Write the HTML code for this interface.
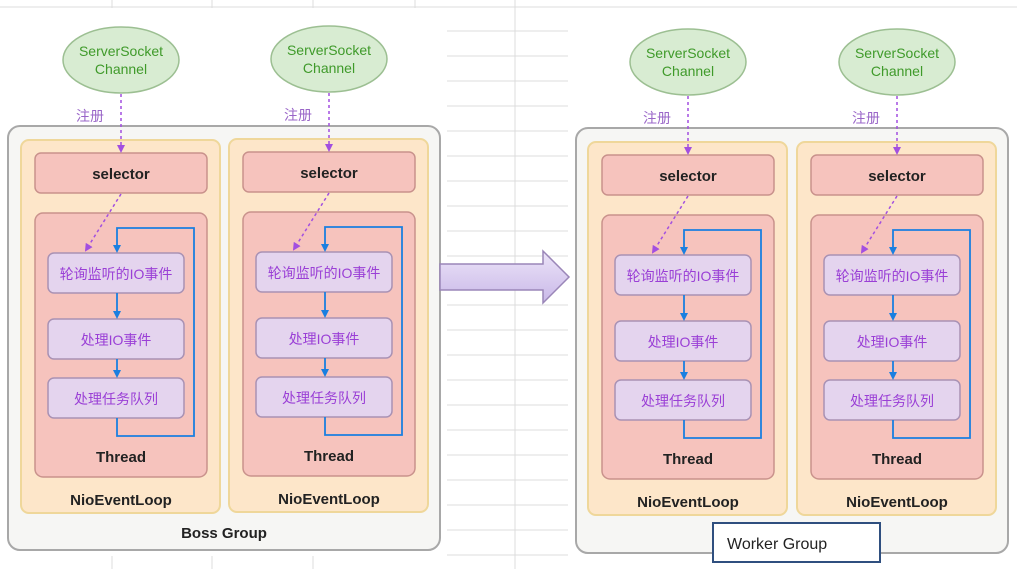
<!DOCTYPE html>
<html><head><meta charset="utf-8"><style>
html,body{margin:0;padding:0;background:#fff}
svg{display:block}
text{font-family:"Liberation Sans","Noto Sans CJK SC",sans-serif}
</style></head><body>
<svg width="1017" height="569" viewBox="0 0 1017 569" xmlns="http://www.w3.org/2000/svg">
<defs>
<marker id="pa" markerWidth="8" markerHeight="8" refX="6" refY="4" orient="auto" markerUnits="userSpaceOnUse"><path d="M0,0 L8,4 L0,8 z" fill="#a24fe0"/></marker>
<marker id="ba" markerWidth="8" markerHeight="8" refX="6" refY="4" orient="auto" markerUnits="userSpaceOnUse"><path d="M0,0 L8,4 L0,8 z" fill="#1a7fe0"/></marker>
<linearGradient id="ag" x1="0" y1="0" x2="0" y2="1"><stop offset="0" stop-color="#ece4f8"/><stop offset="1" stop-color="#c9b8e8"/></linearGradient>
<g id="loop">
  <rect x="21" y="140" width="199" height="373" rx="8" fill="#fde6c9" stroke="#efd79a" stroke-width="2"/>
  <rect x="35" y="153" width="172" height="40" rx="6" fill="#f6c3bd" stroke="#c9928c" stroke-width="1.5"/>
  <text x="121" y="179" font-size="15" font-weight="bold" text-anchor="middle" fill="#222">selector</text>
  <rect x="35" y="213" width="172" height="264" rx="8" fill="#f6c3bd" stroke="#c9928c" stroke-width="1.5"/>
  <rect x="48" y="253" width="136" height="40" rx="6" fill="#e4d4ee" stroke="#a992b4" stroke-width="1.5"/>
  <text x="116" y="279" font-size="14" text-anchor="middle" fill="#9a3fd6">轮询监听的IO事件</text>
  <rect x="48" y="319" width="136" height="40" rx="6" fill="#e4d4ee" stroke="#a992b4" stroke-width="1.5"/>
  <text x="116" y="345" font-size="14" text-anchor="middle" fill="#9a3fd6">处理IO事件</text>
  <rect x="48" y="378" width="136" height="40" rx="6" fill="#e4d4ee" stroke="#a992b4" stroke-width="1.5"/>
  <text x="116" y="404" font-size="14" text-anchor="middle" fill="#9a3fd6">处理任务队列</text>
  <path d="M117,418 L117,436 L194,436 L194,228 L117,228 L117,251" fill="none" stroke="#1a7fe0" stroke-width="1.8" marker-end="url(#ba)"/>
  <path d="M117,293 L117,317" stroke="#1a7fe0" stroke-width="1.8" marker-end="url(#ba)"/>
  <path d="M117,359 L117,376" stroke="#1a7fe0" stroke-width="1.8" marker-end="url(#ba)"/>
  <path d="M121,194 L86,250" stroke="#a24fe0" stroke-width="1.5" stroke-dasharray="3,3" marker-end="url(#pa)"/>
  <text x="121" y="462" font-size="15" font-weight="bold" text-anchor="middle" fill="#222">Thread</text>
  <text x="121" y="505" font-size="15" font-weight="bold" text-anchor="middle" fill="#222">NioEventLoop</text>
  <ellipse cx="121" cy="60" rx="58" ry="33" fill="#d8ecd2" stroke="#9cbf92" stroke-width="1.5"/>
  <text x="121" y="56" font-size="14" text-anchor="middle" fill="#3f9a2a">ServerSocket</text>
  <text x="121" y="74" font-size="14" text-anchor="middle" fill="#3f9a2a">Channel</text>
  <path d="M121,94 L121,151" stroke="#a24fe0" stroke-width="1.5" stroke-dasharray="3,3" marker-end="url(#pa)"/>
  <text x="90" y="121" font-size="14" text-anchor="middle" fill="#9a66c8">注册</text>
</g>
</defs>
<!-- grid background -->
<g stroke="#dcdcdc" stroke-width="1">
  <line x1="112" y1="0" x2="112" y2="8"/><line x1="212" y1="0" x2="212" y2="8"/><line x1="313" y1="0" x2="313" y2="8"/><line x1="415" y1="0" x2="415" y2="8"/>
  <line x1="0" y1="7" x2="1017" y2="7"/>
  <line x1="515" y1="0" x2="515" y2="569"/>
  <line x1="112" y1="556" x2="112" y2="569"/><line x1="212" y1="556" x2="212" y2="569"/><line x1="313" y1="556" x2="313" y2="569"/>
  <line x1="447" y1="31" x2="568" y2="31"/><line x1="447" y1="56" x2="568" y2="56"/><line x1="447" y1="81" x2="568" y2="81"/><line x1="447" y1="106" x2="568" y2="106"/><line x1="447" y1="131" x2="568" y2="131"/><line x1="447" y1="156" x2="568" y2="156"/><line x1="447" y1="181" x2="568" y2="181"/><line x1="447" y1="206" x2="568" y2="206"/><line x1="447" y1="231" x2="568" y2="231"/><line x1="447" y1="256" x2="568" y2="256"/><line x1="447" y1="305" x2="568" y2="305"/><line x1="447" y1="330" x2="568" y2="330"/><line x1="447" y1="355" x2="568" y2="355"/><line x1="447" y1="380" x2="568" y2="380"/><line x1="447" y1="405" x2="568" y2="405"/><line x1="447" y1="430" x2="568" y2="430"/><line x1="447" y1="455" x2="568" y2="455"/><line x1="447" y1="480" x2="568" y2="480"/><line x1="447" y1="505" x2="568" y2="505"/><line x1="447" y1="530" x2="568" y2="530"/><line x1="447" y1="555" x2="568" y2="555"/>
</g>
<!-- Boss group -->
<rect x="8" y="126" width="432" height="424" rx="12" fill="#f6f6f4" stroke="#a8a8a8" stroke-width="2"/>
<use href="#loop"/>
<use href="#loop" transform="translate(208,-1)"/>
<text x="224" y="538" font-size="15" font-weight="bold" text-anchor="middle" fill="#222">Boss Group</text>
<!-- big arrow -->
<path d="M440,264 L543,264 L543,251 L569,277 L543,303 L543,290 L440,290 z" fill="url(#ag)" stroke="#9a86b8" stroke-width="1.5"/>
<!-- Worker group -->
<rect x="576" y="128" width="432" height="425" rx="12" fill="#f6f6f4" stroke="#a8a8a8" stroke-width="2"/>
<use href="#loop" transform="translate(567,2)"/>
<use href="#loop" transform="translate(776,2)"/>
<rect x="713" y="523" width="167" height="39" fill="#fff" stroke="#2f4f7f" stroke-width="2"/>
<text x="727" y="549" font-size="16" fill="#222">Worker Group</text>
</svg>
</body></html>
